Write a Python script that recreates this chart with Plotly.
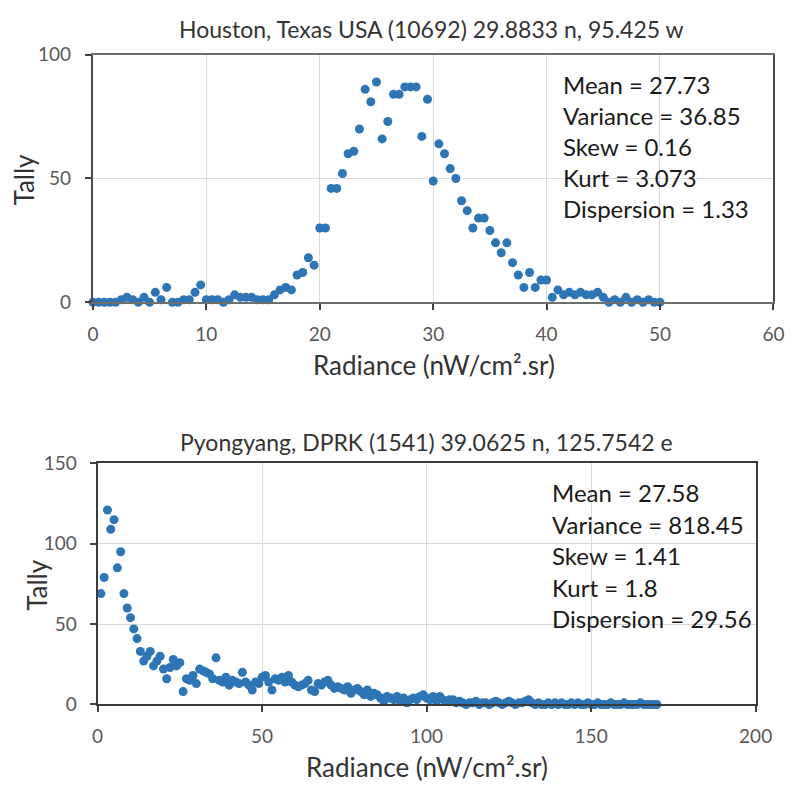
import plotly.graph_objects as go

W, H = 804, 787

# ---------------- Houston data ----------------
houston_radiance = [
    0.0, 0.5, 1.0, 1.5, 2.0, 2.5, 3.0, 3.5, 4.0, 4.5,
    5.0, 5.5, 6.0, 6.5, 7.0, 7.5, 8.0, 8.5, 9.0, 9.5,
    10.0, 10.5, 11.0, 11.5, 12.0, 12.5, 13.0, 13.5, 14.0, 14.5,
    15.0, 15.5, 16.0, 16.5, 17.0, 17.5, 18.0, 18.5, 19.0, 19.5,
    20.0, 20.5, 21.0, 21.5, 22.0, 22.5, 23.0, 23.5, 24.0, 24.5,
    25.0, 25.5, 26.0, 26.5, 27.0, 27.5, 28.0, 28.5, 29.0, 29.5,
    30.0, 30.5, 31.0, 31.5, 32.0, 32.5, 33.0, 33.5, 34.0, 34.5,
    35.0, 35.5, 36.0, 36.5, 37.0, 37.5, 38.0, 38.5, 39.0, 39.5,
    40.0, 40.5, 41.0, 41.5, 42.0, 42.5, 43.0, 43.5, 44.0, 44.5,
    45.0, 45.5, 46.0, 46.5, 47.0, 47.5, 48.0, 48.5, 49.0, 49.5,
    50.0,
]
houston_tally = [
    0, 0, 0, 0, 0, 1, 2, 1, 0, 2,
    0, 4, 1, 6, 0, 0, 1, 1, 4, 7,
    1, 1, 1, 0, 1, 3, 2, 2, 2, 1,
    1, 1, 3, 5, 6, 5, 11, 12, 18, 15,
    30, 30, 46, 46, 52, 60, 61, 70, 86, 81,
    89, 66, 73, 84, 84, 87, 87, 87, 67, 82,
    49, 64, 60, 54, 50, 41, 37, 30, 34, 34,
    29, 24, 20, 24, 16, 11, 6, 12, 6, 9,
    9, 2, 5, 3, 4, 3, 4, 3, 3, 4,
    2, 0, 1, 0, 2, 0, 1, 0, 1, 0,
    0,
]
houston_title = "Houston, Texas USA (10692) 29.8833 n, 95.425 w"
houston_stats = ["Mean = 27.73", "Variance = 36.85", "Skew = 0.16",
                 "Kurt = 3.073", "Dispersion = 1.33"]

# ---------------- Pyongyang data ----------------
pyong_radiance = [
    1, 2, 3, 4, 5, 6, 7, 8, 9, 10,
    11, 12, 13, 14, 15, 16, 17, 18, 19, 20,
    21, 22, 23, 24, 25, 26, 27, 28, 29, 30,
    31, 32, 33, 34, 35, 36, 37, 38, 39, 40,
    41, 42, 43, 44, 45, 46, 47, 48, 49, 50,
    51, 52, 53, 54, 55, 56, 57, 58, 59, 60,
    61, 62, 63, 64, 65, 66, 67, 68, 69, 70,
    71, 72, 73, 74, 75, 76, 77, 78, 79, 80,
    81, 82, 83, 84, 85, 86, 87, 88, 89, 90,
    91, 92, 93, 94, 95, 96, 97, 98, 99, 100,
    101, 102, 103, 104, 105, 106, 107, 108, 109, 110,
    111, 112, 113, 114, 115, 116, 117, 118, 119, 120,
    121, 122, 123, 124, 125, 126, 127, 128, 129, 130,
    131, 132, 133, 134, 135, 136, 137, 138, 139, 140,
    141, 142, 143, 144, 145, 146, 147, 148, 149, 150,
    151, 152, 153, 154, 155, 156, 157, 158, 159, 160,
    161, 162, 163, 164, 165, 166, 167, 168, 169, 170,
]
pyong_tally = [
    69, 79, 121, 109, 115, 85, 95, 69, 60, 54,
    47, 41, 33, 27, 30, 33, 24, 27, 30, 22,
    16, 23, 28, 24, 26, 8, 16, 15, 18, 13,
    22, 21, 20, 19, 16, 29, 15, 14, 17, 12,
    15, 14, 13, 20, 14, 12, 9, 14, 13, 17,
    18, 14, 9, 16, 15, 17, 14, 18, 14, 12,
    11, 12, 13, 15, 9, 8, 13, 12, 14, 15,
    12, 10, 11, 10, 9, 11, 7, 9, 10, 8,
    6, 9, 5, 7, 6, 4, 2, 5, 4, 3,
    5, 2, 4, 1, 3, 4, 3, 5, 6, 4,
    3, 5, 2, 5, 3, 2, 3, 3, 1, 2,
    1, 0, 1, 1, 2, 0, 1, 1, 0, 1,
    2, 1, 0, 1, 2, 1, 0, 1, 1, 2,
    3, 1, 0, 1, 0, 0, 1, 0, 1, 0,
    1, 0, 0, 1, 0, 1, 0, 0, 1, 0,
    0, 1, 0, 0, 0, 1, 0, 0, 0, 1,
    0, 0, 0, 0, 1, 0, 0, 0, 0, 0,
]
pyong_title = "Pyongyang, DPRK (1541) 39.0625 n, 125.7542 e"
pyong_stats = ["Mean = 27.58", "Variance = 818.45", "Skew = 1.41",
               "Kurt = 1.8", "Dispersion = 29.56"]

x_title = "Radiance (nW/cm\u00b2.sr)"
y_title = "Tally"

FONT = "Lato"
DOT = "#2E75B6"


def px(xp):
    return xp / W


def py(yp):
    return 1 - yp / H


fig = go.Figure()
fig.add_trace(go.Scatter(x=houston_radiance, y=houston_tally, mode="markers",
                         marker=dict(color=DOT, size=9), cliponaxis=False,
                         xaxis="x", yaxis="y", showlegend=False))
fig.add_trace(go.Scatter(x=pyong_radiance, y=pyong_tally, mode="markers",
                         marker=dict(color=DOT, size=9), cliponaxis=False,
                         xaxis="x2", yaxis="y2", showlegend=False))

# plot-area boxes in pixels
top_box = (89.5, 44, 790, 299)
bot_box = (94.3, 465, 771.7, 713.3)

axis_common = dict(showgrid=True, gridcolor="#d9d9d9", gridwidth=1,
                   zeroline=False, showline=True, mirror=True,
                   ticks="outside", ticklen=6, tickwidth=1.5, tickcolor="#404040",
                   tickfont=dict(family=FONT, size=19, color="#595959"))

fig.update_layout(
    width=W, height=H, margin=dict(l=0, r=0, t=0, b=0),
    paper_bgcolor="white", plot_bgcolor="white",
    xaxis=dict(domain=[px(top_box[0]), px(top_box[2])], range=[0, 60], dtick=10,
               anchor="y", linecolor="#6e6e6e", linewidth=2,
               ticklabelstandoff=8, **axis_common),
    yaxis=dict(domain=[py(top_box[3]), py(top_box[1])], range=[0, 100], dtick=50,
               anchor="x", linecolor="#4a4a4a", linewidth=2,
               ticklabelstandoff=10, **axis_common),
    xaxis2=dict(domain=[px(bot_box[0]), px(bot_box[2])], range=[0, 200], dtick=50,
                anchor="y2", linecolor="#3a3a3a", linewidth=2,
                ticklabelstandoff=8, **axis_common),
    yaxis2=dict(domain=[py(bot_box[3]), py(bot_box[1])], range=[0, 150], dtick=50,
                anchor="x2", linecolor="#3a3a3a", linewidth=2,
                ticklabelstandoff=9, **axis_common),
)

ann = []
title_font = dict(family=FONT, size=23, color="#333333")
axt_font = dict(family=FONT, size=26, color="#333333")
stat_font = dict(family=FONT, size=24, color="#1a1a1a")

ann.append(dict(x=px(438), y=py(18), text=houston_title, font=title_font))
ann.append(dict(x=px(433), y=py(443), text=pyong_title, font=title_font))
ann.append(dict(x=px(441), y=py(364), text=x_title, font=axt_font))
ann.append(dict(x=px(433), y=py(778), text=x_title, font=axt_font))
ann.append(dict(x=px(18), y=py(172), text=y_title, font=axt_font, textangle=-90))
ann.append(dict(x=px(32), y=py(590), text=y_title, font=axt_font, textangle=-90))

for i, s in enumerate(houston_stats):
    ann.append(dict(x=px(571), y=py(75 + i * 31.8), text=s, font=stat_font,
                    xanchor="left"))
for i, s in enumerate(pyong_stats):
    ann.append(dict(x=px(560), y=py(495 + i * 32.5), text=s, font=stat_font,
                    xanchor="left"))

for a in ann:
    a.setdefault("xanchor", "center")
    a.update(xref="paper", yref="paper", yanchor="middle", showarrow=False)
fig.update_layout(annotations=ann)

fig.write_html("out.html")
